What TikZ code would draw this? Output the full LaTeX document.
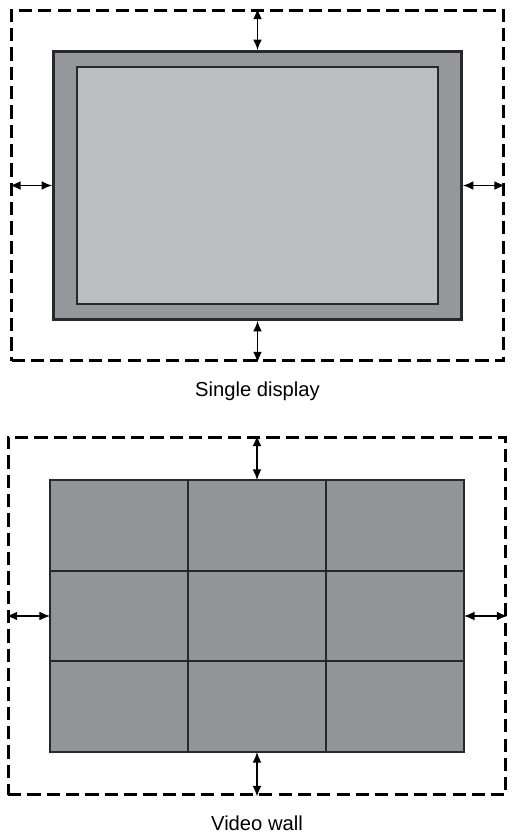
\documentclass[tikz,border=0pt]{standalone}
\usepackage{fontspec}
\setmainfont{Liberation Sans}
\usetikzlibrary{positioning, arrows.meta}

\definecolor{bezelgray}{RGB}{150,151,154}
\definecolor{screengray}{RGB}{188,189,192}
\definecolor{tilegray}{RGB}{147,148,152}
\definecolor{edgegray}{RGB}{40,40,42}

\begin{document}
\begin{tikzpicture}[x=0.02cm, y=-0.02cm]
    \tikzstyle{zone} = [rectangle, draw=black, line width=1.7pt, dash pattern=on 7.5pt off 3.5pt, inner sep=0pt]
    \tikzstyle{bezel} = [rectangle, draw=edgegray, line width=1.6pt, fill=bezelgray, inner sep=0pt]
    \tikzstyle{screen} = [rectangle, draw=edgegray, line width=1.6pt, fill=screengray, inner sep=0pt]
    \tikzstyle{tile} = [rectangle, draw=edgegray, line width=1pt, fill=tilegray, inner sep=0pt, minimum width=2.76cm, minimum height=1.813cm, outer sep=0pt]
    \tikzstyle{caption} = [font=\fontsize{11.5}{14}\selectfont, inner sep=0pt]
    \tikzstyle{gap} = [line width=0.8pt, {Latex[length=6pt,width=5pt]}-{Latex[length=6pt,width=5pt]}]

    \useasboundingbox (0,0) rectangle (516,837);

    % single display
    \node (zone1) [zone, minimum width=9.84cm, minimum height=7.02cm] at (257.5,185.5) {};
    \node (display) [bezel, minimum width=8.16cm, minimum height=5.36cm] at (257.5,185.5) {};
    \node (panel) [screen, minimum width=7.22cm, minimum height=4.74cm] at (257.5,185.5) {};
    \node (label1) [caption, below=0.38cm of zone1] {Single display};

    \draw [gap] (zone1.north) -- (display.north);
    \draw [gap] (zone1.south) -- (display.south);
    \draw [gap] (zone1.west) -- (display.west);
    \draw [gap] (zone1.east) -- (display.east);

    % video wall
    \node (zone2) [zone, minimum width=9.96cm, minimum height=7.16cm] at (257,616) {};
    \foreach \r/\y in {1/525.33, 2/616, 3/706.67}
        \foreach \c/\x in {1/119, 2/257, 3/395}
            \node (tile-\r-\c) [tile] at (\x,\y) {};
    \draw [edgegray, line width=1.6pt] (tile-1-1.north west) rectangle (tile-3-3.south east);
    \node (label2) [caption, below=0.38cm of zone2] {Video wall};

    \draw [gap] (zone2.north) -- (tile-1-2.north);
    \draw [gap] (zone2.south) -- (tile-3-2.south);
    \draw [gap] (zone2.west) -- (tile-2-1.west);
    \draw [gap] (zone2.east) -- (tile-2-3.east);
\end{tikzpicture}
\end{document}
